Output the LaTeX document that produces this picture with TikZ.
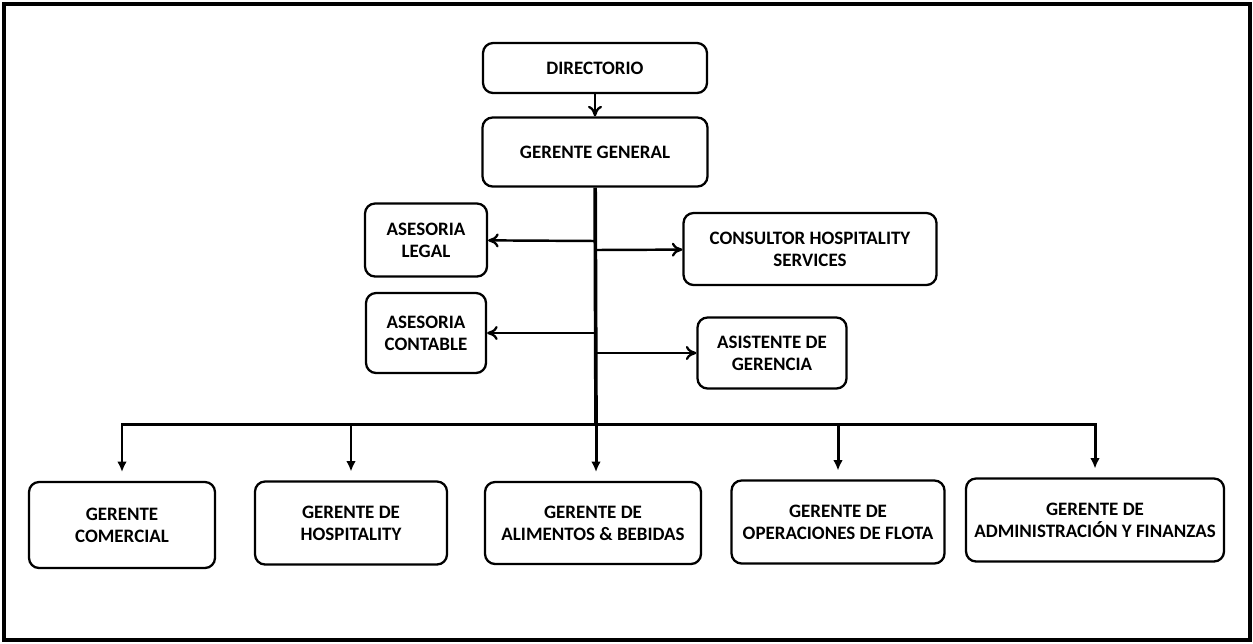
\documentclass[tikz,border=0pt]{standalone}
\usepackage{fontspec}
\setmainfont{Carlito}
\usetikzlibrary{arrows.meta}

\tikzset{
  cargo/.style={draw, rounded corners=0.2cm, line width=1.3pt, align=center,
    inner sep=0pt, font=\bfseries\fontsize{10.8}{12.6}\selectfont},
  flecha/.style={line width=1.4pt, -{To[length=6pt,width=8pt,line width=1.3pt]}},
  baja/.style={line width=1.7pt, -{Latex[length=6pt,width=5.5pt]}, shorten >=5pt},
}

\begin{document}
\begin{tikzpicture}[x=0.02cm,y=-0.02cm]
    \useasboundingbox (0,0) rectangle (1253,643);
    % Outer frame
    \draw[line width=2.5pt] (4,4) rectangle (1250,640);

    % Top rank: directorio and gerente general
    \node[cargo, minimum width=4.48cm, minimum height=1.00cm] (dir) at (595,68) {DIRECTORIO};
    \node[cargo, minimum width=4.50cm, minimum height=1.38cm] (ger_gen) at (595,152) {GERENTE GENERAL};

    % Staff rank on the left
    \node[cargo, minimum width=2.44cm, minimum height=1.46cm] (ase_legal) at (426,240) {ASESORIA\\LEGAL};
    \node[cargo, minimum width=2.40cm, minimum height=1.60cm] (ase_cont) at (426,333) {ASESORIA\\CONTABLE};

    % Staff rank on the right
    \node[cargo, minimum width=5.06cm, minimum height=1.44cm] (consultor) at (810,249) {CONSULTOR HOSPITALITY\\SERVICES};
    \node[cargo, minimum width=2.98cm, minimum height=1.42cm] (asistente) at (772,353) {ASISTENTE DE\\GERENCIA};

    % Bottom rank with the five managers
    \node[cargo, minimum width=3.72cm, minimum height=1.72cm] (ger_com) at (122,525) {GERENTE\\COMERCIAL};
    \node[cargo, minimum width=3.84cm, minimum height=1.66cm] (ger_hosp) at (351,523) {GERENTE DE\\HOSPITALITY};
    \node[cargo, minimum width=4.32cm, minimum height=1.64cm] (ger_ali) at (593,523) {GERENTE DE\\ALIMENTOS \& BEBIDAS};
    \node[cargo, minimum width=4.26cm, minimum height=1.66cm] (ger_ope) at (838,522) {GERENTE DE\\OPERACIONES DE FLOTA};
    \node[cargo, minimum width=5.16cm, minimum height=1.66cm] (ger_adm) at (1095,520) {GERENTE DE\\ADMINISTRACI\'ON Y FINANZAS};

    % Points on the trunk
    \coordinate (t_1) at (596,241);
    \coordinate (t_2) at (596,250);
    \coordinate (t_3) at (596,333);
    \coordinate (t_4) at (596,353);
    \coordinate (bus) at (596,424);

    % Connections
    \draw[flecha] (dir) -- (ger_gen);
    \draw[line width=2.1pt] (ger_gen) -- (bus);

    \draw[flecha] (t_1) -- (ase_legal);
    \draw[flecha] (t_3) -- (ase_cont);
    \draw[flecha] (t_2) -- (consultor);
    \draw[flecha] (t_4) -- (asistente);

    \draw[baja] (bus) -| (ger_com);
    \draw[baja] (bus) -| (ger_hosp);
    \draw[baja] (bus) -- (bus |- ger_ali.north);
    \draw[baja] (bus) -| (ger_ope);
    \draw[baja] (bus) -| (ger_adm);

\end{tikzpicture}
\end{document}
